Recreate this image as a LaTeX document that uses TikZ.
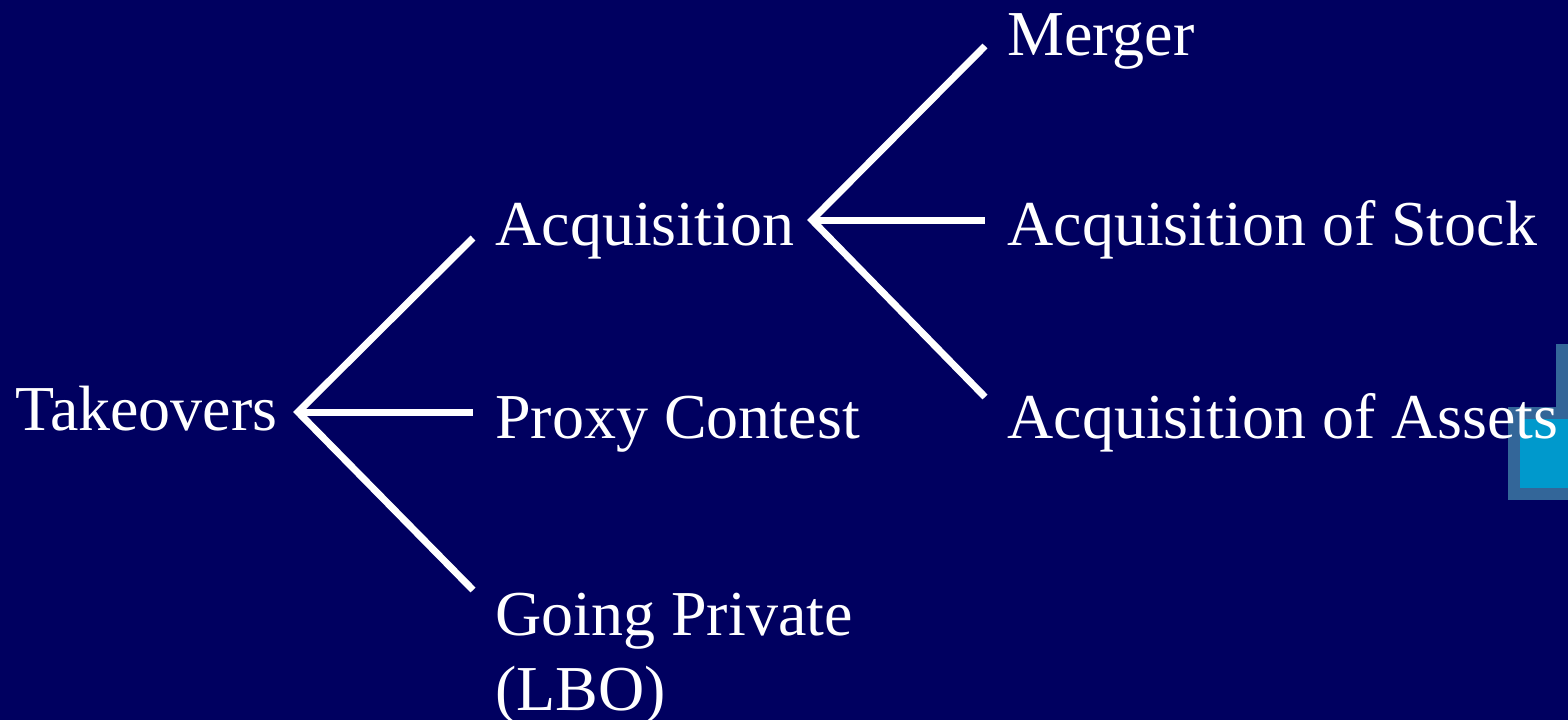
\documentclass[tikz,border=0pt]{standalone}
\usepackage{fontspec}
\setmainfont{Liberation Serif}
\usetikzlibrary{positioning}

\definecolor{slidebg}{HTML}{000060}
\definecolor{slidegrey}{HTML}{336699}
\definecolor{slidecyan}{HTML}{0099CC}

\begin{document}
\begin{tikzpicture}[
        x=0.5pt, y=-0.5pt,
        every node/.style={text=white, inner sep=0pt, anchor=base west, font=\fontsize{32}{37}\selectfont},
        branch/.style={draw=white, line width=3.5pt}
    ]

    % Background
    \useasboundingbox (0,0) rectangle (1568,720);
    \fill[slidebg] (0,0) rectangle (1568,720);

    % Corner decoration
    \fill[slidegrey] (1556,344) rectangle (1568,435);
    \fill[slidegrey] (1508,407) rectangle (1568,500);
    \fill[slidecyan] (1520,419) rectangle (1568,488);

    % Nodes
    \node (takeovers) at (15,430) {Takeovers};
    \node (acq) at (495,245) {Acquisition};
    \node (proxy) at (495,438) {Proxy Contest};
    \node (private) at (495,635) {Going Private};
    \node (lbo) at (495,710) {(LBO)};
    \node (merger) at (1007,55) {Merger};
    \node (stock) at (1007,245) {Acquisition of Stock};
    \node (assets) at (1007,438) {Acquisition of Assets};

    % Branch points
    \coordinate (takeovers-r) at (298,412);
    \coordinate (acq-l) at (473,238);
    \coordinate (proxy-l) at (473,412);
    \coordinate (private-l) at (473,590);
    \coordinate (acq-r) at (812,220);
    \coordinate (merger-l) at (985,46);
    \coordinate (stock-l) at (985,220);
    \coordinate (assets-l) at (985,397);

    % Branches
    \draw[branch] (acq-l) -- (takeovers-r) -- (private-l);
    \draw[branch] (takeovers-r) -- (proxy-l);
    \draw[branch] (merger-l) -- (acq-r) -- (assets-l);
    \draw[branch] (acq-r) -- (stock-l);

\end{tikzpicture}
\end{document}
